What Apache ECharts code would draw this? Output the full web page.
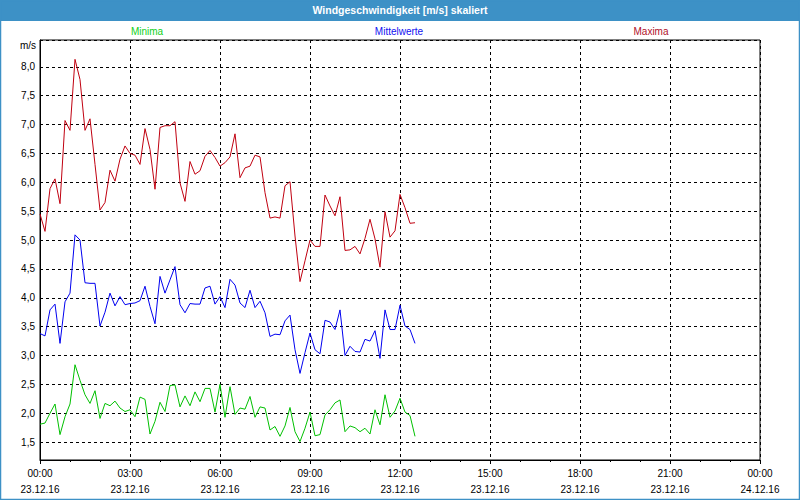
<!DOCTYPE html>
<html>
<head>
<meta charset="utf-8">
<script src="https://cdn.jsdelivr.net/npm/echarts@6/dist/echarts.min.js"></script>
<style>
html,body{margin:0;padding:0;background:#fff;}
#chart{width:800px;height:500px;}
</style>
</head>
<body>
<div id="chart"></div>
<script>
// ---- data ----
const chartTitle = 'Windgeschwindigkeit [m/s] skaliert';
const seriesNames = ['Minima', 'Mittelwerte', 'Maxima'];
const startDate = '23.12.16';
const endDate = '24.12.16';
const stepMinutes = 10; // one value every 10 minutes starting 00:00
const xTickHours = [0, 3, 6, 9, 12, 15, 18, 21, 24];
const xTickTimes = ['00:00', '03:00', '06:00', '09:00', '12:00', '15:00', '18:00', '21:00', '00:00'];
const xTickDates = ['23.12.16', '23.12.16', '23.12.16', '23.12.16', '23.12.16', '23.12.16', '23.12.16', '23.12.16', '24.12.16'];
const yUnit = 'm/s';

const maxima = [5.45, 5.15, 5.89, 6.06, 5.63, 7.07, 6.90, 8.13, 7.78, 6.90,
  7.10, 6.31, 5.52, 5.65, 6.21, 6.02, 6.40, 6.63, 6.50, 6.47,
  6.31, 6.93, 6.57, 5.88, 6.95, 6.98, 6.98, 7.05, 5.99, 5.67,
  6.36, 6.14, 6.20, 6.45, 6.55, 6.43, 6.28, 6.34, 6.44, 6.84,
  6.08, 6.25, 6.28, 6.47, 6.44, 5.82, 5.38, 5.40, 5.38, 5.94,
  6.01, 5.07, 4.28, 4.64, 5.00, 4.89, 4.89, 5.78, 5.59, 5.42,
  5.75, 4.82, 4.83, 4.89, 4.76, 5.03, 5.36, 5.02, 4.53, 5.49,
  5.05, 5.16, 5.79, 5.56, 5.29, 5.30];

const mittelwerte = [3.38, 3.34, 3.79, 3.89, 3.21, 3.93, 4.08, 5.09, 5.00, 4.26,
  4.25, 4.25, 3.51, 3.75, 4.08, 3.86, 4.02, 3.88, 3.90, 3.91,
  3.95, 4.20, 3.85, 3.55, 4.37, 4.08, 4.31, 4.54, 3.88, 3.74,
  3.90, 3.89, 3.89, 4.17, 4.20, 3.89, 4.02, 3.83, 4.32, 4.22,
  3.91, 3.83, 4.13, 3.83, 3.94, 3.74, 3.33, 3.37, 3.36, 3.60,
  3.70, 3.10, 2.69, 3.05, 3.39, 3.10, 3.03, 3.61, 3.58, 3.45,
  3.79, 3.00, 3.16, 3.07, 3.06, 3.28, 3.25, 3.43, 2.95, 3.79,
  3.45, 3.45, 3.87, 3.51, 3.45, 3.21];

const minima = [1.81, 1.83, 2.00, 2.16, 1.63, 1.94, 2.16, 2.84, 2.57, 2.32,
  2.17, 2.39, 1.91, 2.17, 2.13, 2.21, 2.09, 2.03, 2.06, 1.94,
  2.28, 2.24, 1.64, 1.86, 2.19, 2.03, 2.48, 2.49, 2.11, 2.30,
  2.13, 2.37, 2.20, 2.43, 2.43, 2.02, 2.50, 1.93, 2.46, 1.98,
  2.09, 2.07, 2.29, 1.93, 2.11, 2.09, 1.71, 1.77, 1.60, 1.78,
  2.10, 1.68, 1.51, 1.74, 2.02, 1.61, 1.63, 1.97, 2.06, 2.18,
  2.23, 1.68, 1.78, 1.75, 1.68, 1.74, 1.64, 2.06, 1.80, 2.32,
  1.93, 2.04, 2.26, 2.02, 1.96, 1.60];

const colors = { Minima: '#00c000', Mittelwerte: '#0000f0', Maxima: '#c00010' };
const textColors = { Minima: '#10d020', Mittelwerte: '#1010f0', Maxima: '#b0102a' };

// ---- chart ----
const FONT = 'Liberation Sans';
function toPairs(arr) {
  return arr.map((v, i) => [i * stepMinutes / 60, v]);
}
const chart = echarts.init(document.getElementById('chart'), null, { renderer: 'svg' });

const legendCenters = [147, 399, 651];

chart.setOption({
  animation: false,
  backgroundColor: '#ffffff',
  grid: {
    left: 40, right: 40, top: 40, bottom: 40,
    show: true, borderColor: '#000', borderWidth: 1, backgroundColor: 'transparent',
    containLabel: false
  },
  graphic: [
    { type: 'rect', shape: { x: 0, y: 0, width: 800, height: 21 }, style: { fill: '#3d91c6' }, z: 10 },
    { type: 'rect', shape: { x: 0.5, y: 0.5, width: 799, height: 499 }, style: { fill: 'none', stroke: '#3d91c6', lineWidth: 1.5 }, z: 10 },
    { type: 'text', x: 400, y: 10, z: 11,
      style: { text: chartTitle, fill: '#ffffff', font: 'bold 10.5px ' + FONT, textAlign: 'center', textVerticalAlign: 'middle' } },
    ...seriesNames.map((n, k) => ({
      type: 'text', x: legendCenters[k], y: 31, z: 11,
      style: { text: n, fill: textColors[n], font: '10px ' + FONT, textAlign: 'center', textVerticalAlign: 'middle' }
    })),
    { type: 'text', x: 36, y: 45, z: 11,
      style: { text: yUnit, fill: '#000', font: '10px ' + FONT, textAlign: 'right', textVerticalAlign: 'middle' } }
  ],
  xAxis: {
    type: 'value', min: 0, max: 24, interval: 3,
    axisLine: { show: true, onZero: false, lineStyle: { color: '#000', width: 1 } },
    axisTick: { show: true, length: 4, lineStyle: { color: '#000' } },
    minorTick: { show: true, splitNumber: 3, length: 2, lineStyle: { color: '#000' } },
    splitLine: { show: true, lineStyle: { color: '#000', type: [3, 3], width: 1 } },
    axisLabel: {
      color: '#000', fontFamily: FONT, fontSize: 10, lineHeight: 16, margin: 5,
      showMinLabel: true, showMaxLabel: true,
      formatter: (v) => {
        const k = xTickHours.indexOf(Math.round(v));
        return k >= 0 ? xTickTimes[k] + '\n' + xTickDates[k] : '';
      }
    }
  },
  yAxis: {
    type: 'value', min: 1.19, max: 8.465, splitNumber: 14,
    axisLine: { show: true, lineStyle: { color: '#000', width: 1 } },
    axisTick: { show: false },
    splitLine: { show: true, lineStyle: { color: '#000', type: [3, 3], width: 1 } },
    axisLabel: {
      color: '#000', fontFamily: FONT, fontSize: 10, margin: 5,
      formatter: (v) => {
        const d = v * 2;
        if (Math.abs(d - Math.round(d)) > 1e-6) return '';
        return v.toFixed(1).replace('.', ',');
      }
    }
  },
  series: [
    { name: 'Maxima', type: 'line', data: toPairs(maxima), showSymbol: false, symbol: 'none',
      lineStyle: { color: colors.Maxima, width: 1 }, z: 3 },
    { name: 'Mittelwerte', type: 'line', data: toPairs(mittelwerte), showSymbol: false, symbol: 'none',
      lineStyle: { color: colors.Mittelwerte, width: 1 }, z: 3 },
    { name: 'Minima', type: 'line', data: toPairs(minima), showSymbol: false, symbol: 'none',
      lineStyle: { color: colors.Minima, width: 1 }, z: 3 }
  ]
});
</script>
</body>
</html>
